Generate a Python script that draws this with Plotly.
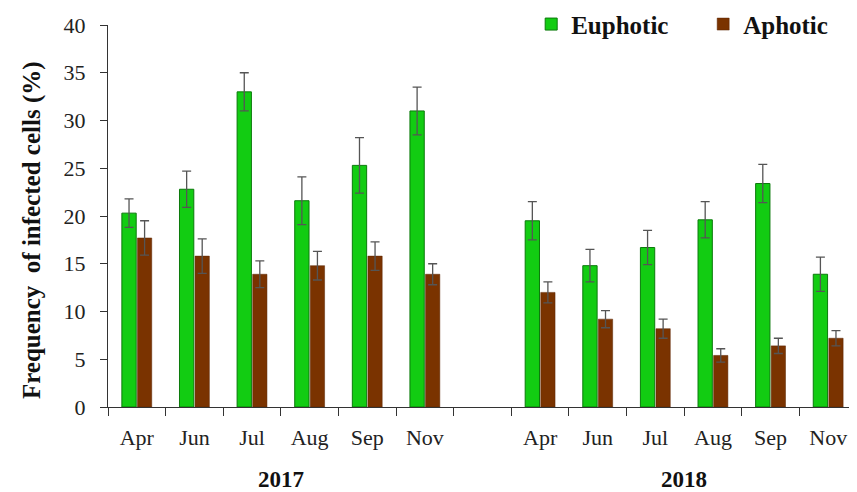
import plotly.graph_objects as go

months = ["Apr", "Jun", "Jul", "Aug", "Sep", "Nov"]
years = ["2017", "2018"]

euphotic_2017 = [20.3, 22.8, 33.0, 21.6, 25.3, 31.0]
euphotic_2017_err = [1.5, 1.9, 2.0, 2.5, 2.9, 2.5]
aphotic_2017 = [17.7, 15.8, 13.9, 14.8, 15.8, 13.9]
aphotic_2017_err = [1.8, 1.8, 1.4, 1.5, 1.5, 1.1]

euphotic_2018 = [19.5, 14.8, 16.7, 19.6, 23.4, 13.9]
euphotic_2018_err = [2.0, 1.7, 1.8, 1.9, 2.0, 1.8]
aphotic_2018 = [12.0, 9.2, 8.2, 5.4, 6.4, 7.2]
aphotic_2018_err = [1.1, 0.9, 1.0, 0.7, 0.8, 0.8]

# unique category keys, one empty slot between the two years
cats = [m + " " + years[0] for m in months] + ["gap"] + [m + " " + years[1] for m in months]
ticktext = months + [""] + months

eup = euphotic_2017 + [None] + euphotic_2018
eup_err = euphotic_2017_err + [0] + euphotic_2018_err
aph = aphotic_2017 + [None] + aphotic_2018
aph_err = aphotic_2017_err + [0] + aphotic_2018_err

font = "Liberation Serif"
err_style = dict(type="data", thickness=1.3, width=4.5, color="#555555")

fig = go.Figure()
fig.add_trace(go.Bar(x=cats, y=eup, name="Euphotic",
                     marker=dict(color="#12CC12", line=dict(color="#0B7A0B", width=1)),
                     error_y=dict(array=eup_err, **err_style)))
fig.add_trace(go.Bar(x=cats, y=aph, name="Aphotic",
                     marker=dict(color="#7A3300", line=dict(color="#5A2500", width=0.5)),
                     error_y=dict(array=aph_err, **err_style)))

for i, yr in enumerate(years):
    fig.add_annotation(x=2.5 + 7 * i, y=-0.191, xref="x", yref="paper", yanchor="middle",
                       text="<b>" + yr + "</b>", showarrow=False,
                       font=dict(family=font, size=23, color="#111111"))

# y title as a rotated annotation so it can sit a little below the plot centre
fig.add_annotation(x=-0.1015, y=0.463, xref="paper", yref="paper", textangle=-90,
                   xanchor="center", yanchor="middle", showarrow=False,
                   text="<b>Frequency  of infected cells (%)</b>",
                   font=dict(family=font, size=25, color="#111111"))

# the page body adds an 8px offset, so the figure is a bit smaller than the window
fig.update_layout(
    width=849, height=484,
    margin=dict(l=100, r=0, t=17, b=85, autoexpand=False),
    plot_bgcolor="white", paper_bgcolor="white",
    barmode="group", bargap=0.46, bargroupgap=0.08,
    font=dict(family=font, size=22, color="#222222"),
    showlegend=True,
    legend=dict(orientation="h", x=0.565, y=1.062, xanchor="left", yanchor="top",
                font=dict(family=font, size=25, color="#111111", weight="bold"),
                bgcolor="rgba(0,0,0,0)", itemwidth=30, entrywidth=127),
)
fig.update_xaxes(type="category", categoryorder="array", categoryarray=cats,
                 tickmode="array", tickvals=cats, ticktext=ticktext,
                 tickson="boundaries", ticks="outside", ticklen=8, tickcolor="#333333",
                 ticklabelstandoff=10, automargin=False,
                 showline=True, linecolor="#333333", linewidth=1.2, showgrid=False,
                 range=[-0.5, 12.5])
fig.update_yaxes(range=[0, 40], dtick=5, ticks="outside", ticklen=7, tickcolor="#333333",
                 ticklabelstandoff=10, automargin=False,
                 showline=True, linecolor="#333333", linewidth=1.2, showgrid=False,
                 zeroline=False)

fig.write_html("out.html")
